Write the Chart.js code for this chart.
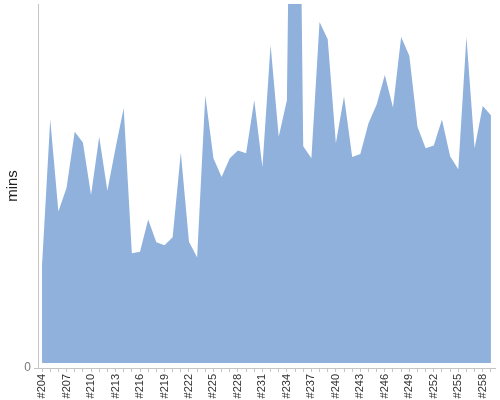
<!DOCTYPE html>
<html>
<head>
<meta charset="utf-8">
<script src="https://cdn.jsdelivr.net/npm/chart.js@4"></script>
<style>
    html, body { margin: 0; padding: 0; background: #fff; }
    #wrap { width: 500px; height: 400px; }
</style>
</head>
<body>
<div id="wrap"><canvas id="chart"></canvas></div>
<script>
// build numbers #204 .. #259
const builds = [
    "#204", "#205", "#206", "#207", "#208", "#209", "#210", "#211",
    "#212", "#213", "#214", "#215", "#216", "#217", "#218", "#219",
    "#220", "#221", "#222", "#223", "#224", "#225", "#226", "#227",
    "#228", "#229", "#230", "#231", "#232", "#233", "#234", "#235",
    "#236", "#237", "#238", "#239", "#240", "#241", "#242", "#243",
    "#244", "#245", "#246", "#247", "#248", "#249", "#250", "#251",
    "#252", "#253", "#254", "#255", "#256", "#257", "#258", "#259",
];

// build duration in minutes (#235 goes far off the top of the axis)
const durations = [
    13.7, 33.9, 21.1, 24.4, 32.2, 30.7, 23.4, 31.5,
    24.0, 29.9, 35.5, 15.3, 15.5, 20.0, 16.8, 16.4,
    17.5, 29.3, 16.9, 14.7, 37.3, 28.5, 25.9, 28.5,
    29.6, 29.2, 36.6, 27.3, 44.3, 31.5, 36.6, 130.0,
    30.2, 28.5, 47.5, 45.1, 30.6, 37.1, 28.7, 29.1,
    33.4, 36.0, 40.1, 35.6, 45.4, 42.8, 32.9, 29.9,
    30.3, 33.9, 28.8, 27.0, 45.4, 29.9, 35.8, 34.5,
];

// the axis sits a few px below the area's zero line
const yMin = -0.7;
const yMax = 50;

const fill = "#8fb1dc";
const axisColor = "#c4c4c4";
const font = "'Liberation Sans', Arial, sans-serif";

new Chart(document.getElementById("chart").getContext("2d"), {
    type: "line",
    data: {
        labels: builds,
        datasets: [{
            label: "mins",
            data: durations,
            fill: "origin",
            backgroundColor: fill,
            borderColor: fill,
            borderWidth: 0,
            pointRadius: 0,
            tension: 0,
        }],
    },
    options: {
        responsive: true,
        maintainAspectRatio: false,
        animation: false,
        layout: { padding: { top: 4, right: 5, left: 0, bottom: 0 } },
        plugins: {
            legend: { display: false },
            tooltip: { enabled: false },
        },
        scales: {
            x: {
                type: "category",
                offset: true,
                grid: {
                    offset: false,
                    drawOnChartArea: false,
                    tickLength: 4,
                    color: axisColor,
                },
                border: { display: true, color: axisColor },
                ticks: {
                    autoSkip: false,
                    minRotation: 90,
                    maxRotation: 90,
                    padding: 2,
                    color: "#333",
                    font: { family: font, size: 11 },
                    callback: (v, i) => (i % 3 === 0 ? builds[i] : ""),
                },
                afterFit: (axis) => {
                    axis.height = 32;
                    axis.paddingLeft = 0;
                    axis.paddingRight = 0;
                },
            },
            y: {
                min: yMin,
                max: yMax,
                // single "0" tick drawn at the bottom of the axis
                afterBuildTicks: (axis) => { axis.ticks = [{ value: yMin }]; },
                grid: {
                    drawOnChartArea: false,
                    tickLength: 4,
                    color: axisColor,
                },
                border: { display: true, color: axisColor },
                ticks: {
                    padding: 3,
                    color: "#777",
                    font: { family: font, size: 12 },
                    callback: () => "0",
                },
                title: {
                    display: true,
                    text: "mins",
                    color: "#222",
                    padding: { top: 4, bottom: 0 },
                    font: { family: font, size: 15 },
                },
                afterFit: (axis) => {
                    axis.width = 38;
                    axis.paddingTop = 0;
                    axis.paddingBottom = 0;
                },
            },
        },
    },
});
</script>
</body>
</html>
